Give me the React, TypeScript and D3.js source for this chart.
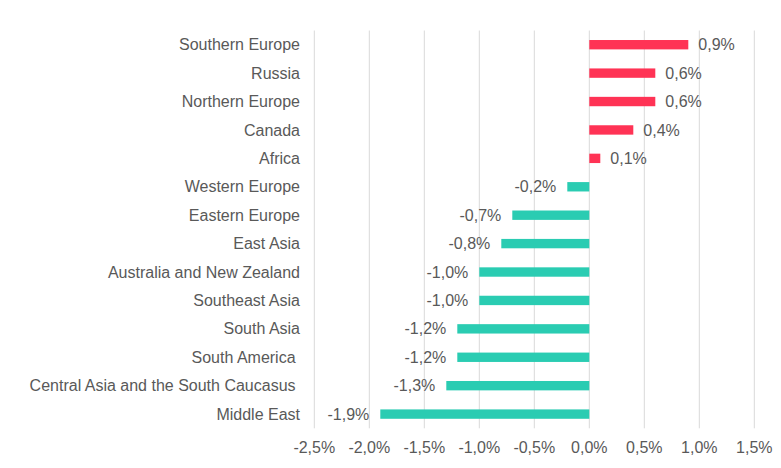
import React from "react";
import * as d3 from "d3";

const categories = [
  "Southern Europe",
  "Russia",
  "Northern Europe",
  "Canada",
  "Africa",
  "Western Europe",
  "Eastern Europe",
  "East Asia",
  "Australia and New Zealand",
  "Southeast Asia",
  "South Asia",
  "South America ",
  "Central Asia and the South Caucasus ",
  "Middle East",
];

const values = [0.9, 0.6, 0.6, 0.4, 0.1, -0.2, -0.7, -0.8, -1.0, -1.0, -1.2, -1.2, -1.3, -1.9];

const xTicks = [-2.5, -2.0, -1.5, -1.0, -0.5, 0, 0.5, 1.0, 1.5];

const W = 781;
const H = 468;
const margin = { top: 30.5, right: 27, bottom: 40, left: 314.3 };

const POS = "#FF3355";
const NEG = "#2ACCB2";
const TEXT = "#595959";
const GRID = "#D9D9D9";

const fmt = (v: number) => v.toFixed(1).replace(".", ",") + "%";

export default function App() {
  const x = d3.scaleLinear().domain([-2.5, 1.5]).range([margin.left, 754.3]);
  const y = d3
    .scaleBand<string>()
    .domain(categories)
    .range([margin.top, 428.3])
    .paddingInner(0.67)
    .paddingOuter(0.335);

  const font = "'Liberation Sans', Arial, sans-serif";

  return (
    <svg
      width={W}
      height={H}
      style={{ position: "absolute", left: 0, top: 0, background: "#fff" }}
      fontFamily={font}
    >
      {xTicks.map((t) => (
        <line
          key={"g" + t}
          x1={x(t)}
          x2={x(t)}
          y1={margin.top}
          y2={428.3}
          stroke={GRID}
          strokeWidth={1}
        />
      ))}
      {categories.map((c, i) => {
        const v = values[i];
        const x0 = x(Math.min(0, v));
        const x1 = x(Math.max(0, v));
        const yy = y(c)!;
        const cy = yy + y.bandwidth() / 2;
        return (
          <g key={c}>
            <rect x={x0} y={yy} width={x1 - x0} height={y.bandwidth()} fill={v >= 0 ? POS : NEG} />
            <text
              x={v >= 0 ? x1 + 10 : x0 - 11}
              y={cy}
              dy="0.35em"
              textAnchor={v >= 0 ? "start" : "end"}
              fontSize={16}
              fill={TEXT}
            >
              {fmt(v)}
            </text>
            <text
              x={300}
              y={cy}
              dy="0.35em"
              textAnchor="end"
              fontSize={16}
              fill={TEXT}
              style={{ whiteSpace: "pre" }}
            >
              {c}
            </text>
          </g>
        );
      })}
      {xTicks.map((t) => (
        <text
          key={"t" + t}
          x={x(t)}
          y={452.5}
          textAnchor="middle"
          fontSize={16}
          fill={TEXT}
        >
          {fmt(t)}
        </text>
      ))}
    </svg>
  );
}
